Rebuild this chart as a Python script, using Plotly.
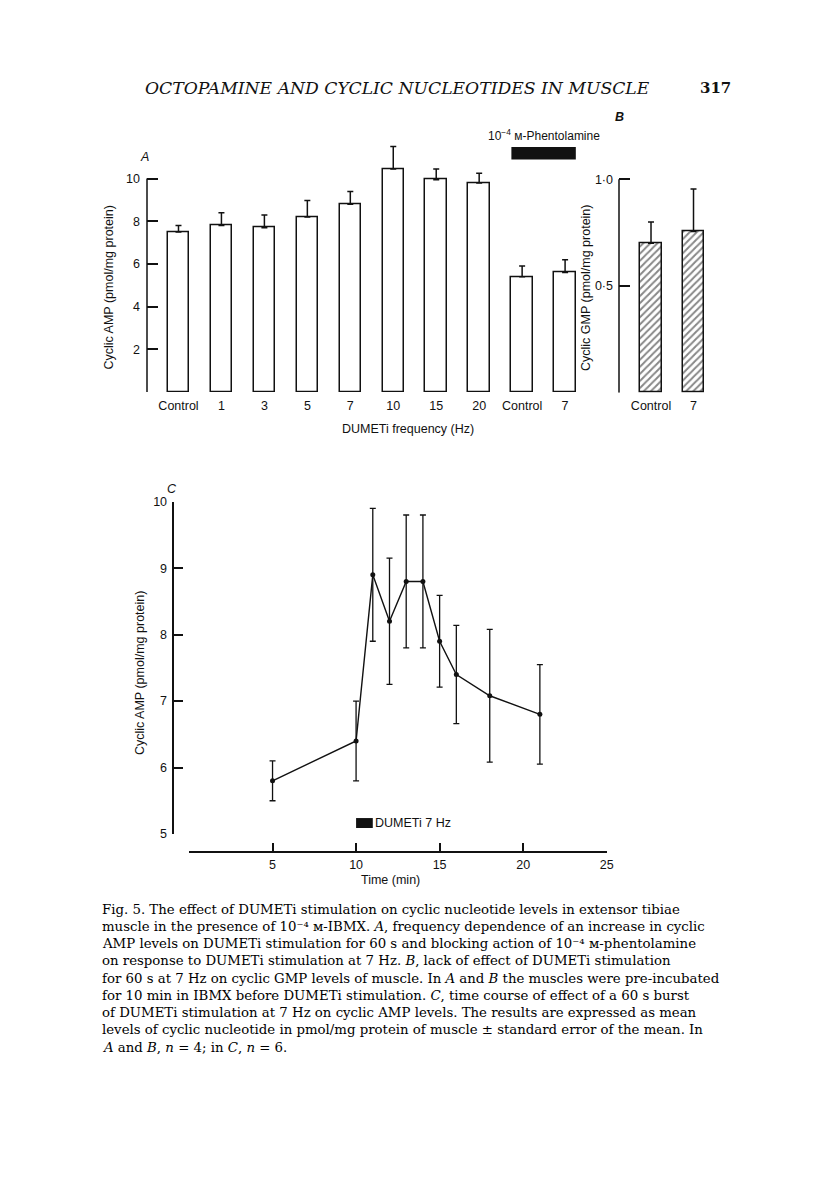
import plotly.graph_objects as go

# ---------------- data ----------------
# Panel A: cyclic AMP vs DUMETi frequency (last two bars: + phentolamine)
a_labels = ["Control", "1", "3", "5", "7", "10", "15", "20", "Control", "7"]
a_values = [7.5, 7.8, 7.7, 8.2, 8.8, 10.45, 9.95, 9.8, 5.4, 5.6]
a_errors = [0.3, 0.6, 0.6, 0.77, 0.6, 1.05, 0.5, 0.45, 0.5, 0.6]
a_ticks = [2, 4, 6, 8, 10]
a_base = 0
phent_group = [8, 9]          # indices of bars under phentolamine

# Panel B: cyclic GMP
b_labels = ["Control", "7"]
b_values = [0.70, 0.755]
b_errors = [0.10, 0.20]
b_ticks = [0.5, 1.0]
b_ticktext = ["0·5", "1·0"]
b_base = 0

# Panel C: time course
c_time = [5, 10, 11, 12, 13, 14, 15, 16, 18, 21]
c_values = [5.8, 6.4, 8.9, 8.2, 8.8, 8.8, 7.9, 7.4, 7.08, 6.8]
c_errors = [0.3, 0.6, 1.0, 0.95, 1.0, 1.0, 0.69, 0.74, 1.0, 0.75]
c_yticks = [5, 6, 7, 8, 9, 10]
c_xticks = [5, 10, 15, 20, 25]
c_xstart = 0
stim_start, stim_end = 10, 11   # 60 s burst at 7 Hz

caption_lines = [
    "Fig. 5. The effect of DUMETi stimulation on cyclic nucleotide levels in extensor tibiae",
    "muscle in the presence of 10⁻⁴ м-IBMX. <i>A</i>, frequency dependence of an increase in cyclic",
    "AMP levels on DUMETi stimulation for 60 s and blocking action of 10⁻⁴ м-phentolamine",
    "on response to DUMETi stimulation at 7 Hz. <i>B</i>, lack of effect of DUMETi stimulation",
    "for 60 s at 7 Hz on cyclic GMP levels of muscle. In <i>A</i> and <i>B</i> the muscles were pre-incubated",
    "for 10 min in IBMX before DUMETi stimulation. <i>C</i>, time course of effect of a 60 s burst",
    "of DUMETi stimulation at 7 Hz on cyclic AMP levels. The results are expressed as mean",
    "levels of cyclic nucleotide in pmol/mg protein of muscle ± standard error of the mean. In",
    "<i>A</i> and <i>B</i>, <i>n</i> = 4; in <i>C</i>, <i>n</i> = 6.",
]

# ---------------- layout helpers ----------------
W, H = 816, 1181
OFF = 8  # page body margin in the browser
def fx(px):
    return (px - OFF) / W
def fy(py):
    return 1 - (py - OFF) / H

SANS = "Liberation Sans, Arial, sans-serif"
SERIF = "DejaVu Serif, serif"
INK = "#111111"

fig = go.Figure()

a_x = list(range(len(a_labels)))
b_x = list(range(len(b_labels)))

fig.add_trace(go.Bar(
    x=a_x, y=a_values, width=0.5,
    marker=dict(color="white", line=dict(color=INK, width=1.5)),
    error_y=dict(type="data", symmetric=False, array=a_errors,
                 arrayminus=[0] * len(a_errors), width=3, thickness=1.5, color=INK),
    xaxis="x", yaxis="y", showlegend=False,
))

fig.add_trace(go.Bar(
    x=b_x, y=b_values, width=0.5,
    marker=dict(color="white", line=dict(color=INK, width=1.5),
                pattern=dict(shape="/", fgcolor=INK, bgcolor="white", size=5, solidity=0.4)),
    error_y=dict(type="data", symmetric=False, array=b_errors,
                 arrayminus=[0] * len(b_errors), width=3, thickness=1.5, color=INK),
    xaxis="x2", yaxis="y2", showlegend=False,
))

fig.add_trace(go.Scatter(
    x=c_time, y=c_values, mode="lines+markers",
    line=dict(color=INK, width=1.4),
    marker=dict(color=INK, size=5),
    error_y=dict(type="data", array=c_errors, width=3, thickness=1.3, color=INK),
    xaxis="x3", yaxis="y3", showlegend=False,
))

tickfont = dict(family=SANS, size=12.5, color=INK)

fig.update_layout(
    width=W, height=H,
    margin=dict(l=0, r=0, t=0, b=0, autoexpand=False),
    paper_bgcolor="white", plot_bgcolor="white",
    bargap=0,
    xaxis=dict(domain=[fx(147), fx(590)], range=[-0.733, 9.58], automargin=False,
               tickvals=a_x, ticktext=a_labels, showline=False, ticks="",
               ticklabelstandoff=4,
               showgrid=False, zeroline=False, tickfont=tickfont, anchor="y"),
    yaxis=dict(domain=[fy(392), fy(140.2)], range=[0, 11.8], automargin=False,
               tickvals=a_ticks, ticks="inside", ticklen=11, ticklabelstandoff=6,
               tickwidth=1.5, tickcolor=INK, showline=False, showgrid=False,
               minor=dict(tickvals=[a_base], ticks="inside", ticklen=11,
                          tickwidth=1.5, tickcolor=INK, showgrid=False),
               zeroline=False, tickfont=tickfont, anchor="x"),
    xaxis2=dict(domain=[fx(619), fx(712)], range=[-0.753, 1.435], automargin=False,
                tickvals=b_x, ticktext=b_labels, showline=False, ticks="",
                ticklabelstandoff=4,
                showgrid=False, zeroline=False, tickfont=tickfont, anchor="y2"),
    yaxis2=dict(domain=[fy(392.7), fy(147.3)], range=[0, 1.15], automargin=False,
                tickvals=b_ticks, ticktext=b_ticktext, ticks="inside", ticklen=11,
                ticklabelstandoff=5,
                tickwidth=1.5, tickcolor=INK, showline=False, showgrid=False,
                minor=dict(tickvals=[b_base], ticks="inside", ticklen=11,
                           tickwidth=1.5, tickcolor=INK, showgrid=False),
                zeroline=False, tickfont=tickfont, anchor="x2"),
    xaxis3=dict(domain=[fx(189), fx(606.7)], range=[0, 25], automargin=False,
                tickvals=c_xticks, ticks="inside", ticklen=8, ticklabelstandoff=2,
                tickwidth=1.5, tickcolor=INK, showline=True, linecolor=INK, linewidth=1.5,
                minor=dict(tickvals=[c_xstart], ticks="inside", ticklen=8,
                           tickwidth=1.5, tickcolor=INK, showgrid=False),
                showgrid=False, zeroline=False, tickfont=tickfont,
                anchor="free", position=fy(851.7)),
    yaxis3=dict(domain=[fy(834), fy(501.7)], range=[5, 10], automargin=False,
                tickvals=c_yticks, ticks="inside", ticklen=9, ticklabelstandoff=3,
                tickwidth=1.5, tickcolor=INK, showline=True, linecolor=INK, linewidth=1.5,
                showgrid=False, zeroline=False, tickfont=tickfont,
                anchor="free", position=fx(173.3)),
)

# axis spines for A and B (run from base to top labelled tick)
fig.add_shape(type="line", xref="x domain", yref="y", x0=0, x1=0,
              y0=a_base, y1=a_ticks[-1], line=dict(color=INK, width=1.5))
fig.add_shape(type="line", xref="x2 domain", yref="y2", x0=0, x1=0,
              y0=b_base, y1=b_ticks[-1], line=dict(color=INK, width=1.5))

# phentolamine bar over the last two bars of A
fig.add_shape(type="rect", xref="x", yref="y",
              x0=phent_group[0] - 0.25, x1=phent_group[-1] + 0.25, y0=10.9, y1=11.48,
              fillcolor=INK, line=dict(width=0))
fig.add_annotation(text="10<sup>−4</sup> м-Phentolamine", xref="x", yref="paper",
                   x=(phent_group[0] + phent_group[-1]) / 2, y=fy(135),
                   xanchor="center", yanchor="middle",
                   showarrow=False, font=dict(family=SANS, size=12, color=INK))

# stimulus bar in C
fig.add_shape(type="rect", xref="x3", yref="y3", x0=stim_start, x1=stim_end,
              y0=5.09, y1=5.24, fillcolor=INK, line=dict(width=0))
fig.add_annotation(text="DUMETi 7 Hz", xref="x3", yref="y3", x=stim_end, y=5.165,
                   xanchor="left", yanchor="middle", showarrow=False,
                   font=dict(family=SANS, size=12.5, color=INK))

# panel letters
for letter, px, py in [("A", 144, 157), ("B", 619, 117), ("C", 171.5, 489)]:
    fig.add_annotation(text=f"<b><i>{letter}</i></b>" if letter == "B" else f"<i>{letter}</i>",
                       xref="paper", yref="paper", x=fx(px), y=fy(py),
                       xanchor="center", yanchor="middle",
                       showarrow=False, font=dict(family=SANS, size=12.5, color=INK))

# axis titles
titles = [
    ("Cyclic AMP (pmol/mg protein)", 108, 287.5, -90),
    ("Cyclic GMP (pmol/mg protein)", 586, 288, -90),
    ("Cyclic AMP (pmol/mg protein)", 140, 673, -90),
    ("DUMETi frequency (Hz)", 408, 429, 0),
    ("Time (min)", 390, 880, 0),
]
for text, px, py, ang in titles:
    fig.add_annotation(text=text, xref="paper", yref="paper", x=fx(px), y=fy(py),
                       xanchor="center", yanchor="middle",
                       textangle=ang, showarrow=False,
                       font=dict(family=SANS, size=12.5, color=INK))

# page header
fig.add_annotation(text="<i>OCTOPAMINE AND CYCLIC NUCLEOTIDES IN MUSCLE</i>",
                   xref="paper", yref="paper", x=fx(143), y=fy(88),
                   xanchor="left", yanchor="middle",
                   showarrow=False, font=dict(family=SERIF, size=17.2, color=INK))
fig.add_annotation(text="<b>317</b>", xref="paper", yref="paper", x=fx(733), y=fy(88),
                   xanchor="right", yanchor="middle", showarrow=False,
                   font=dict(family=SERIF, size=15, color=INK))

# caption
for i, line in enumerate(caption_lines):
    fig.add_annotation(text=line, xref="paper", yref="paper", x=fx(100),
                       y=fy(909 + 17.25 * i), xanchor="left", yanchor="middle",
                       showarrow=False,
                       font=dict(family=SERIF, size=13.3, color="black"))

fig.write_html("out.html")
